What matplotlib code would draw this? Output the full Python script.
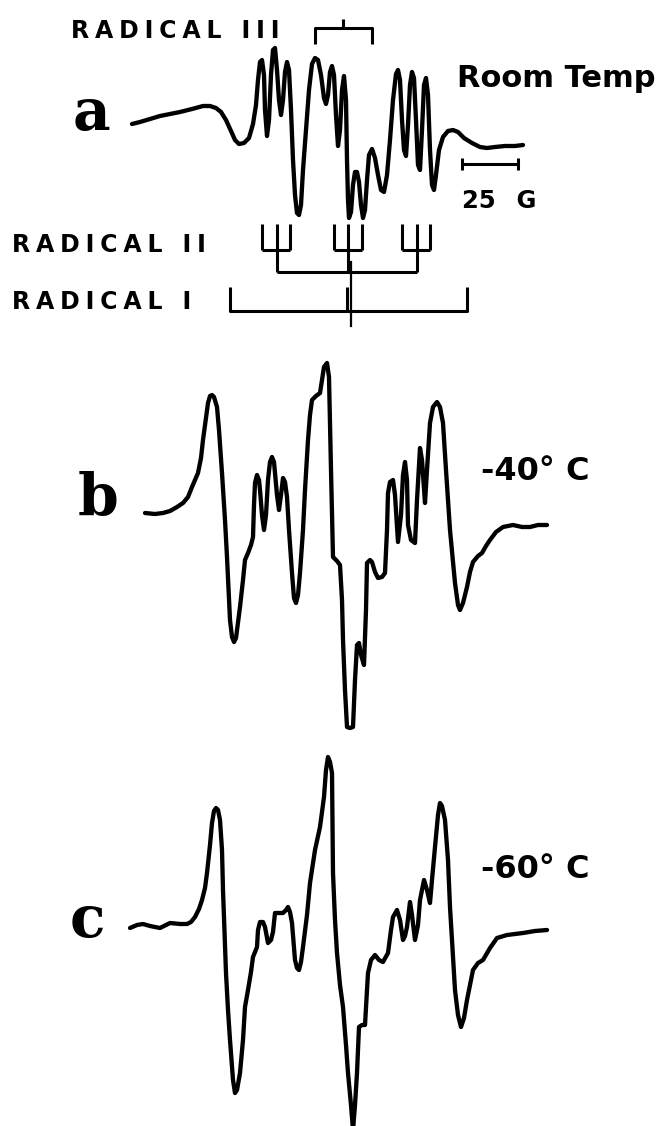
import matplotlib.pyplot as plt
import numpy as np

# EPR spectra (x = field position, y = signal, both in figure pixels)
trace_a = [(132,124),(140,122),(150,119),(160,116),(170,114),(180,112),(192,109),(203,106),(210,106),
           (216,108),(221,112),(226,120),(231,131),(235,140),(239,144),(244,143),(249,138),(253,124),
           (256,105),(258,80),(260,62),(262,60),(264,75),(265,110),(267,136),(269,120),(271,75),(273,50),
           (275,48),(277,70),(279,100),(281,115),(283,100),(285,72),(287,62),(289,70),(291,110),(293,160),
           (295,195),(297,213),(299,215),(301,205),(303,170),(306,130),(309,90),(312,64),(315,58),(318,60),
           (321,75),(324,98),(326,104),(328,95),(330,72),(332,66),(334,75),(336,115),(338,146),(340,130),
           (342,90),(344,76),(346,100),(347,160),(348,200),(349,218),(351,212),(353,185),(355,172),(357,172),
           (359,182),(361,205),(363,218),(365,210),(367,180),(369,155),(372,149),(375,158),(378,175),
           (381,190),(384,192),(387,175),(390,140),(393,100),(396,74),(398,70),(400,80),(402,120),(404,150),
           (406,156),(408,125),(410,85),(412,72),(414,78),(416,120),(418,165),(420,170),(422,130),(424,85),
           (426,78),(428,95),(430,150),(432,185),(434,190),(436,175),(439,150),(443,137),(448,131),(453,130),
           (458,132),(464,138),(472,143),(480,147),(487,148),(495,147),(505,146),(515,146),(523,145)]

trace_b = [(145,513),(155,514),(163,513),(170,511),(177,507),(183,503),(188,497),(192,487),(198,473),
           (201,458),(203,440),(206,418),(208,403),(210,396),(212,395),(214,397),(217,407),(219,430),
           (222,473),(225,520),(227,557),(230,620),(232,637),(234,642),(236,638),(240,607),(243,580),
           (245,560),(248,553),(251,545),(253,537),(254,505),(255,483),(257,475),(259,480),(260,490),
           (262,515),(264,530),(266,515),(268,480),(270,462),(272,457),(274,462),(275,473),(277,495),
           (279,510),(281,495),(283,478),(285,482),(287,497),(289,530),(292,573),(294,598),(296,603),
           (298,595),(300,573),(303,530),(305,490),(308,440),(310,415),(312,400),(316,396),(320,393),
           (322,380),(324,367),(327,363),(329,377),(331,470),(333,557),(337,561),(340,565),(342,600),
           (343,640),(345,690),(347,727),(350,728),(353,727),(355,680),(357,645),(359,643),(361,655),
           (364,665),(366,610),(367,563),(370,560),(372,562),(375,572),(378,578),(382,577),(385,573),
           (387,530),(388,493),(390,482),(393,480),(395,495),(398,542),(401,515),(403,475),(405,462),
           (407,480),(408,525),(411,540),(415,543),(417,500),(420,448),(422,460),(425,503),(427,470),
           (430,423),(433,407),(437,402),(440,407),(443,423),(446,470),(450,530),(455,583),(458,605),
           (460,610),(463,603),(467,587),(470,572),(473,562),(478,556),(482,553),(486,546),(490,540),
           (496,532),(503,527),(513,525),(522,527),(530,527),(538,525),(547,525)]

trace_c = [(130,928),(137,925),(143,924),(150,926),(160,928),(170,923),(180,924),(187,924),(191,922),
           (195,917),(199,909),(202,900),(205,888),(207,873),(210,845),(212,823),(214,811),(216,808),
           (218,810),(220,820),(222,850),(223,890),(226,973),(228,1010),(230,1040),(233,1080),(235,1093),
           (237,1090),(240,1073),(243,1040),(245,1007),(248,990),(251,972),(253,957),(257,947),(258,930),
           (260,922),(263,922),(265,927),(268,943),(271,940),(273,932),(275,913),(279,913),(283,913),
           (286,910),(288,907),(290,912),(292,923),(295,960),(297,968),(299,970),(301,962),(303,947),
           (307,915),(310,883),(315,850),(320,827),(322,812),(324,797),(326,770),(328,757),(330,762),
           (332,773),(333,873),(335,920),(337,953),(340,985),(343,1007),(346,1045),(348,1073),(351,1105),
           (353,1130),(355,1105),(357,1073),(359,1027),(362,1025),(365,1025),(367,990),(368,973),(371,960),
           (375,955),(379,960),(383,962),(388,953),(391,930),(393,917),(397,910),(400,920),(403,940),
           (405,936),(407,927),(410,902),(412,915),(415,940),(418,925),(420,900),(424,880),(427,890),
           (430,903),(432,880),(435,847),(438,815),(440,803),(442,806),(445,820),(448,860),(450,907),
           (455,990),(458,1015),(461,1027),(464,1018),(467,1000),(470,985),(473,970),(478,963),(483,960),
           (490,948),(497,938),(507,935),(515,934),(523,933),(535,931),(547,930)]

# stick diagrams (line positions along the field, figure pixels)
radical_i_lines = [230, 350, 467]
radical_ii_groups = [[262, 277, 290], [334, 348, 362], [402, 417, 430]]
radical_iii_lines = [315, 343, 372]
scale_bar = [462, 518]   # 25 G

ink = 'black'
trace_lw = 3.1
stick_lw = 2.2

fig = plt.figure(figsize=(6.62, 11.26), dpi=100)
ax = fig.add_axes([0, 0, 1, 1])
ax.set_xlim(0, 662)
ax.set_ylim(1126, 0)
ax.axis('off')

for tr in (trace_a, trace_b, trace_c):
    arr = np.array(tr, dtype=float)
    ax.plot(arr[:, 0], arr[:, 1], color=ink, lw=trace_lw,
            solid_joinstyle='round', solid_capstyle='round')

stick = dict(color=ink, lw=stick_lw, solid_capstyle='butt')

# radical III bracket
l, c, r = radical_iii_lines
ax.plot([l, l, r, r], [44, 28, 28, 44], **stick)
ax.plot([c, c], [28, 19], **stick)

# radical II: three triplets hanging from a common bar
for g in radical_ii_groups:
    for xl in g:
        ax.plot([xl, xl], [224, 250], **stick)
    ax.plot([g[0], g[-1]], [250, 250], **stick)
    ax.plot([g[1], g[1]], [250, 272], **stick)
ax.plot([radical_ii_groups[0][1], radical_ii_groups[-1][1]], [272, 272], **stick)

# radical I
l, c, r = radical_i_lines
ax.plot([l, l, r, r], [287, 311, 311, 287], **stick)
ax.plot([c - 3, c - 3], [287, 311], **stick)
ax.plot([c + 1, c + 1], [262, 326], color=ink, lw=1.6)

# 25 G scale bar
ax.plot(scale_bar, [164, 164], **stick)
for xb in scale_bar:
    ax.plot([xb, xb], [158, 170], **stick)

# labels
sp = '\u2005'
sans = ['DejaVu Sans']
lab = dict(family=sans, weight='bold', color=ink, va='baseline', ha='left')
ax.text(71, 38, sp.join('RADICAL III'), fontsize=17, **lab)
ax.text(12, 252, sp.join('RADICAL II'), fontsize=17, **lab)
ax.text(12, 309, sp.join('RADICAL I'), fontsize=17, **lab)
ax.text(457, 87, 'Room Temp', fontsize=22, **lab)
ax.text(462, 208, '25 ' + sp + sp + 'G', fontsize=17.5, **lab)
ax.text(481, 480, '-40° C', fontsize=23, **lab)
ax.text(481, 878, '-60° C', fontsize=23, **lab)

serif = dict(family=['DejaVu Serif'], weight='bold', color=ink, va='baseline', ha='left', fontsize=42)
ax.text(73, 130, 'a', **serif)
ax.text(78, 515, 'b', **serif)
ax.text(70, 937, 'c', **serif)

fig.savefig('out.png', dpi=100)
plt.close(fig)
